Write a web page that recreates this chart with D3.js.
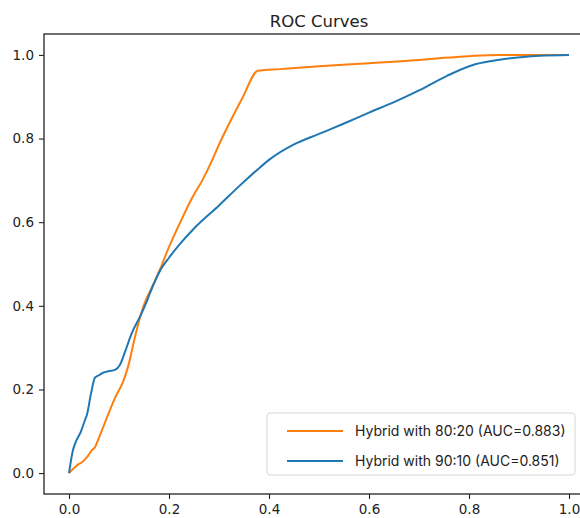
<!DOCTYPE html>
<html>
<head>
<meta charset="utf-8">
<script src="https://cdn.jsdelivr.net/npm/d3@7"></script>
<style>
  body { margin: 0; background: #fff; }
  svg { display: block; font-family: "DejaVu Sans", sans-serif; }
</style>
</head>
<body>
<div id="chart"></div>
<script>
// ROC data
const fpr8020 = [0, 0.01, 0.02, 0.026, 0.036, 0.046, 0.052, 0.058, 0.07, 0.082, 0.092, 0.108, 0.118, 0.132, 0.148, 0.172, 0.182, 0.198, 0.216, 0.248, 0.268, 0.276, 0.308, 0.328, 0.346, 0.378, 0.422, 0.5, 0.6, 0.7, 0.75, 0.8, 0.86, 1.0];
const tpr8020 = [0, 0.012, 0.022, 0.026, 0.038, 0.055, 0.062, 0.079, 0.115, 0.151, 0.18, 0.218, 0.254, 0.326, 0.396, 0.46, 0.487, 0.535, 0.583, 0.662, 0.703, 0.722, 0.806, 0.854, 0.895, 0.962, 0.966, 0.973, 0.98, 0.988, 0.993, 0.997, 1.0, 1.0];

const fpr9010 = [0, 0.008, 0.012, 0.024, 0.032, 0.036, 0.044, 0.052, 0.06, 0.068, 0.08, 0.092, 0.102, 0.112, 0.126, 0.142, 0.156, 0.168, 0.182, 0.2, 0.222, 0.25, 0.3, 0.342, 0.382, 0.4, 0.45, 0.5, 0.55, 0.6, 0.65, 0.7, 0.756, 0.808, 0.848, 0.942, 1.0];
const tpr9010 = [0, 0.055, 0.07, 0.1, 0.127, 0.14, 0.19, 0.228, 0.234, 0.24, 0.244, 0.247, 0.259, 0.29, 0.336, 0.374, 0.412, 0.448, 0.484, 0.515, 0.548, 0.585, 0.64, 0.688, 0.731, 0.749, 0.786, 0.811, 0.836, 0.862, 0.887, 0.915, 0.95, 0.976, 0.986, 0.998, 1.0];

const seriesNames = ["Hybrid with 80:20 (AUC=0.883)", "Hybrid with 90:10 (AUC=0.851)"];
const seriesColors = ["#ff7f0e", "#1f77b4"];
const tickValues = [0, 0.2, 0.4, 0.6, 0.8, 1.0];

const width = 580, height = 518;
// plot box runs past the right edge of the window, like the cropped reference
const margin = { top: 34, left: 44, right: 594, bottom: 494 };

const svg = d3.select("#chart").append("svg")
  .attr("width", width)
  .attr("height", height);

const x = d3.scaleLinear().domain([-0.05, 1.05]).range([margin.left, margin.right]);
const y = d3.scaleLinear().domain([-0.05, 1.05]).range([margin.bottom, margin.top]);

// title
svg.append("text")
  .attr("x", (margin.left + margin.right) / 2)
  .attr("y", 27)
  .attr("text-anchor", "middle")
  .attr("font-size", 16.5)
  .attr("fill", "#222")
  .text("ROC Curves");

// curves
const line = d3.line()
  .x(d => x(d[0]))
  .y(d => y(d[1]))
  .curve(d3.curveMonotoneX);
const series = [
  d3.zip(fpr8020, tpr8020),
  d3.zip(fpr9010, tpr9010)
];
series.forEach((pts, i) => {
  svg.append("path")
    .datum(pts)
    .attr("d", line)
    .attr("fill", "none")
    .attr("stroke", seriesColors[i])
    .attr("stroke-width", 2)
    .attr("stroke-linejoin", "round");
});

// axes
const xAxis = svg.append("g")
  .attr("transform", `translate(0,${margin.bottom})`)
  .call(d3.axisBottom(x).tickValues(tickValues).tickFormat(d3.format(".1f")).tickSize(5).tickPadding(5));
const yAxis = svg.append("g")
  .attr("transform", `translate(${margin.left},0)`)
  .call(d3.axisLeft(y).tickValues(tickValues).tickFormat(d3.format(".1f")).tickSize(5).tickPadding(5));

[xAxis, yAxis].forEach(g => {
  g.select(".domain").remove();
  g.selectAll("line").attr("stroke", "#222").attr("stroke-width", 1.1);
  g.selectAll("text").attr("font-size", 13.5).attr("fill", "#222")
    .attr("font-family", "DejaVu Sans, sans-serif");
});

// frame
svg.append("rect")
  .attr("x", margin.left)
  .attr("y", margin.top)
  .attr("width", margin.right - margin.left)
  .attr("height", margin.bottom - margin.top)
  .attr("fill", "none")
  .attr("stroke", "#222")
  .attr("stroke-width", 1.3);

// legend
const legend = svg.append("g").attr("transform", "translate(267,413)");
legend.append("rect")
  .attr("width", 308).attr("height", 62)
  .attr("rx", 3)
  .attr("fill", "#fff")
  .attr("fill-opacity", 0.8)
  .attr("stroke", "#d6d6d6");
seriesNames.forEach((name, i) => {
  const ly = 18 + i * 30;
  legend.append("line")
    .attr("x1", 20).attr("x2", 76)
    .attr("y1", ly).attr("y2", ly)
    .attr("stroke", seriesColors[i])
    .attr("stroke-width", 2);
  legend.append("text")
    .attr("x", 88).attr("y", ly)
    .attr("dy", "0.35em")
    .attr("font-family", "Inter, sans-serif")
    .attr("font-size", 14)
    .attr("fill", "#222")
    .text(name);
});
</script>
</body>
</html>
